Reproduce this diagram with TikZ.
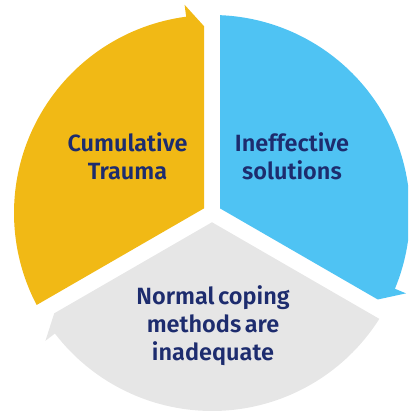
\documentclass[tikz,border=0pt]{standalone}
\usepackage{fontspec}
\setmainfont{Fira Sans}[UprightFont={* Medium}, BoldFont={* SemiBold}]
\definecolor{cyyellow}{HTML}{F1B915}
\definecolor{cyblue}{HTML}{4FC3F3}
\definecolor{cygray}{HTML}{E6E6E6}
\definecolor{cytext}{HTML}{1D2C6E}
\tikzset{
  cylabel/.style={text=cytext, align=center, font=\bfseries\fontsize{23.5}{28}\selectfont, inner sep=0pt},
}
% sector: #1 = start angle, #2 = end angle (= start-120), #3 = colour
\newcommand{\cysector}[3]{%
  \fill[#3] ($(C)+({#1-60}:9.24)$) -- ($(C)+({#1-2.32}:198)$)
    arc[start angle={#1-2.32}, end angle={#2+7.5}, radius=198]
    -- ($(C)+({#2+7.5}:210)$) -- ($(C)+({#2+2.45}:187)$) -- cycle;}
\usetikzlibrary{calc}
\begin{document}
\begin{tikzpicture}[x=1pt,y=1pt]
\useasboundingbox (0,0) rectangle (408,415);
\clip (0,0) rectangle (408,415);
\coordinate (C) at (212,202);
\cysector{210}{90}{cyyellow}
\cysector{90}{-30}{cyblue}
\cysector{-30}{-150}{cygray}
\node[cylabel] (cum) at (127.5,259) {Cumulative\\Trauma};
\node[cylabel] (ine) at (292,259) {Ineffective\\solutions};
\node[cylabel] (nor) at (213,89) {Normal\hspace{0.15em}coping\\methods\hspace{0.15em}are\\inadequate};
\end{tikzpicture}
\end{document}
